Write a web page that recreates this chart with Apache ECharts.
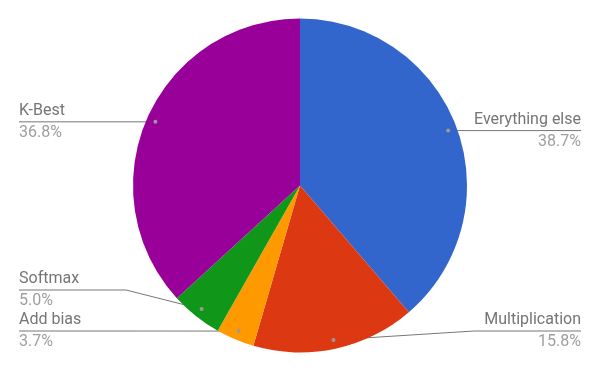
<!DOCTYPE html>
<html><head><meta charset="utf-8">
<script src="https://cdn.jsdelivr.net/npm/echarts@6/dist/echarts.min.js"></script>
<style>html,body{margin:0;padding:0;background:#fff}#c{width:600px;height:371px}</style>
</head><body><div id="c"></div>
<script>
const categories = ['Everything else', 'Multiplication', 'Add bias', 'Softmax', 'K-Best'];
const values = [38.7, 15.8, 3.7, 5.0, 36.8];
const colors = ['#3366cc', '#dc3912', '#ff9900', '#109618', '#990099'];

const W = 600, H = 371;
const cx = W / 2, cy = H / 2, R = 167;
const rDot = R - 9, edge = 19, gap = 41, maxLineY = H - 40;

const total = values.reduce((a, b) => a + b, 0);
let cum = 0;
const info = values.map((v, i) => {
  const th = 2 * Math.PI * (cum + v / 2) / total;
  cum += v;
  const dx = cx + rDot * Math.sin(th), dy = cy - rDot * Math.cos(th);
  return { i, dx, dy, right: Math.sin(th) >= 0, ly: dy };
});
[true, false].forEach(side => {
  const arr = info.filter(o => o.right === side).sort((a, b) => a.dy - b.dy);
  let limit = maxLineY;
  for (let k = arr.length - 1; k >= 0; k--) {
    arr[k].ly = Math.min(arr[k].ly, limit);
    limit = arr[k].ly - gap;
  }
});

const chart = echarts.init(document.getElementById('c'));
chart.setOption({
  animation: false,
  color: colors,
  graphic: info.map(o => ({
    type: 'circle', shape: { cx: o.dx, cy: o.dy, r: 2 },
    style: { fill: '#9a9a9a' }, z: 100
  })),
  series: [{
    type: 'pie',
    center: [cx, cy],
    radius: R,
    startAngle: 90,
    clockwise: true,
    avoidLabelOverlap: false,
    data: categories.map((c, i) => ({ name: c, value: values[i] })),
    label: {
      show: true,
      position: 'outside',
      fontFamily: 'Roboto',
      formatter: p => '{n|' + p.name + '}\n{p|' + p.value.toFixed(1) + '%}',
      rich: {
        n: { fontFamily: 'Roboto', fontSize: 16, color: '#757575', lineHeight: 22 },
        p: { fontFamily: 'Roboto', fontSize: 16, color: '#9e9e9e', lineHeight: 22 }
      }
    },
    labelLine: { show: true, length: 10, length2: 10, lineStyle: { color: '#777', width: 1 } },
    labelLayout: function (params) {
      const o = info[params.dataIndex];
      const ex = o.right ? W - edge : edge;
      const bx = o.right ? cx + R + 7 : cx - R - 7;
      return {
        x: ex, y: o.ly,
        align: o.right ? 'right' : 'left',
        verticalAlign: 'middle',
        labelLinePoints: [[o.dx, o.dy], [bx, o.ly], [ex, o.ly]]
      };
    },
    emphasis: { disabled: true }
  }]
});
</script></body></html>
